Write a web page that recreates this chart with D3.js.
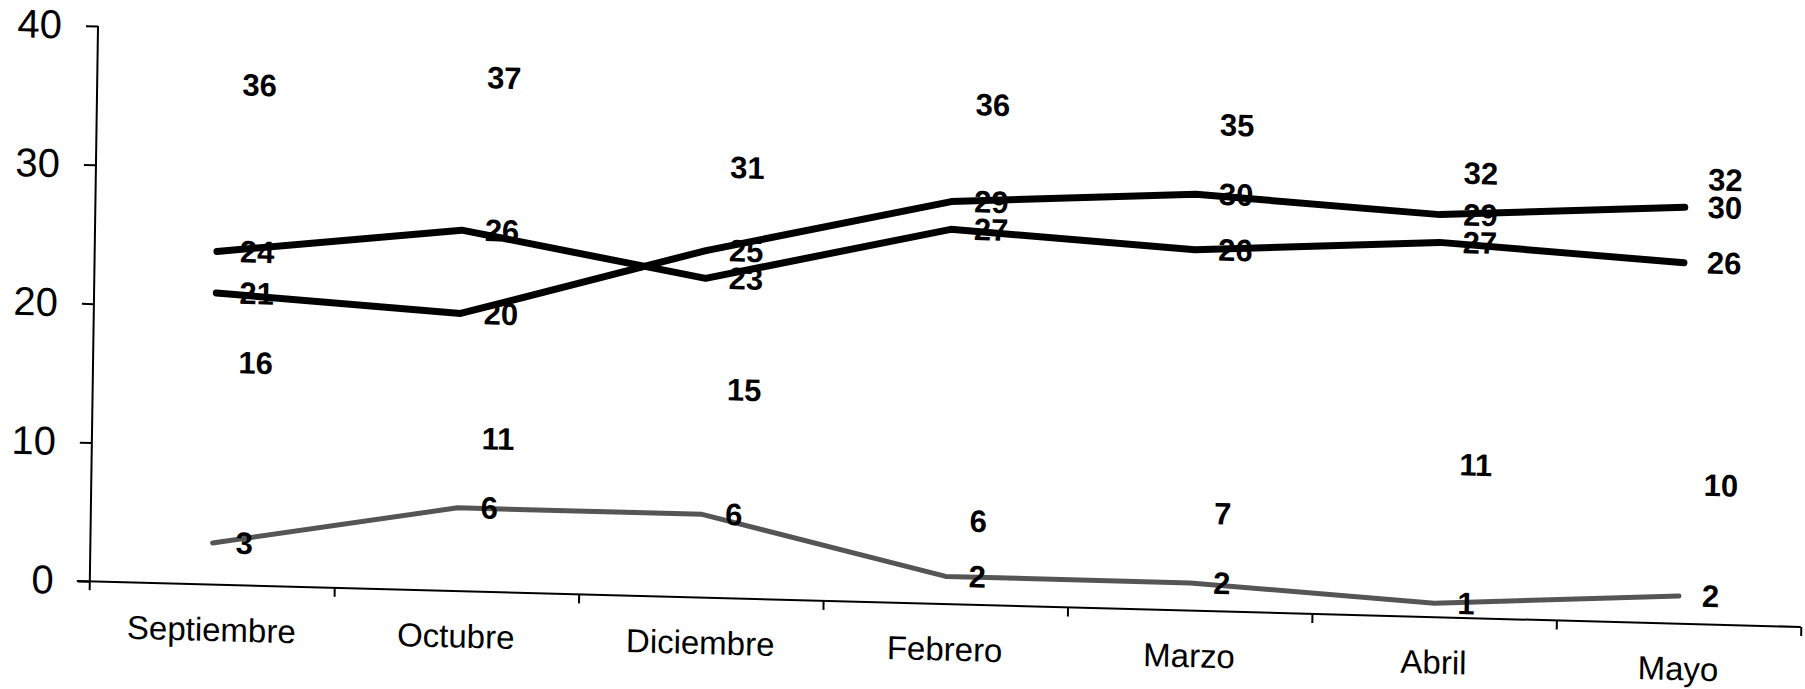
<!DOCTYPE html>
<html>
<head>
<meta charset="utf-8">
<script src="https://cdn.jsdelivr.net/npm/d3@7"></script>
<style>
  html, body { margin: 0; padding: 0; background: #fff; }
  svg { display: block; }
  text { font-family: "Liberation Sans", Arial, sans-serif; fill: #000; }
</style>
</head>
<body>
<svg id="chart" width="1805" height="689"></svg>
<script>
// ---- data ----
const categories = ["Septiembre", "Octubre", "Diciembre", "Febrero", "Marzo", "Abril", "Mayo"];
const serieA = [36, 37, 31, 36, 35, 32, 32];   // labels only
const serieB = [24, 26, 23, 27, 26, 27, 26];   // thick black line
const serieC = [21, 20, 25, 29, 30, 29, 30];   // thick black line
const serieD = [16, 11, 15, 6, 7, 11, 10];     // labels only
const serieE = [3, 6, 6, 2, 2, 1, 2];          // grey line
const yTicks = [0, 10, 20, 30, 40];

// ---- layout ----
const W = 1711, H = 555;
const svg = d3.select("#chart");
// the scanned chart is slightly skewed; reproduce with an affine transform
const g = svg.append("g")
  .attr("transform", "matrix(1,0.0267,-0.0148,1.0005,89.8,581.3)");

const x = d3.scaleBand().domain(categories).range([0, W]);
const xEdges = d3.scaleLinear().domain([0, categories.length]).range([0, W]);
const y = d3.scaleLinear().domain([0, 40]).range([0, -H]);
const cx = c => x(c) + x.bandwidth() / 2;

// ---- axes ----
const yAxis = g.append("g")
  .call(d3.axisLeft(y).tickValues(yTicks).tickSize(12).tickPadding(24).tickFormat(d3.format("d")));
yAxis.select(".domain").remove();
yAxis.selectAll("line").attr("stroke", "#000").attr("stroke-width", 2);
yAxis.selectAll("text").style("font-size", "40px").attr("fill", "#000");

const xTickAxis = g.append("g")
  .call(d3.axisBottom(xEdges).tickValues(d3.range(1, categories.length + 1)).tickSize(9).tickFormat(""));
xTickAxis.select(".domain").remove();
xTickAxis.selectAll("line").attr("stroke", "#000").attr("stroke-width", 2);

const xLabAxis = g.append("g")
  .call(d3.axisBottom(x).tickSize(0).tickPadding(33));
xLabAxis.select(".domain").remove();
xLabAxis.selectAll("text").style("font-size", "33px").attr("fill", "#000");

// axis lines
g.append("line").attr("x1", xEdges(0) - 13).attr("x2", xEdges(categories.length))
  .attr("y1", y(0)).attr("y2", y(0)).attr("stroke", "#000").attr("stroke-width", 2);
g.append("line").attr("x1", xEdges(0)).attr("x2", xEdges(0))
  .attr("y1", y(0) + 9).attr("y2", y(40)).attr("stroke", "#000").attr("stroke-width", 2);

// ---- lines ----
const line = d3.line().x((d, i) => cx(categories[i])).y(d => y(d));
const drawn = [
  { data: serieE, color: "#555", width: 5 },
  { data: serieB, color: "#000", width: 7 },
  { data: serieC, color: "#000", width: 7 }
];
drawn.forEach(s => {
  g.append("path").datum(s.data).attr("d", line)
    .attr("fill", "none").attr("stroke", s.color).attr("stroke-width", s.width)
    .attr("stroke-linecap", "round").attr("stroke-linejoin", "round");
});

// ---- data labels (position: right of point) ----
[serieA, serieB, serieC, serieD, serieE].forEach(s => {
  g.append("g").selectAll("text").data(s).join("text")
    .attr("x", (d, i) => cx(categories[i]) + 23)
    .attr("y", d => y(d) - 1)
    .attr("dy", "0.36em")
    .style("font-size", "31px")
    .style("font-weight", "bold")
    .text(d => d);
});
</script>
</body>
</html>
